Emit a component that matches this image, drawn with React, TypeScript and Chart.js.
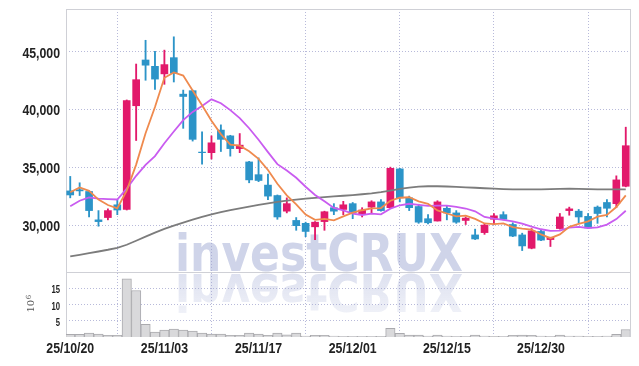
import React, { useEffect, useRef } from 'react';
import { Chart, registerables } from 'chart.js';

Chart.register(...registerables);

// ---------- DATA ----------
const dates = [
  '25/10/20', '25/10/21', '25/10/22', '25/10/23', '25/10/24', '25/10/27', '25/10/28', '25/10/29', '25/10/30', '25/10/31',
  '25/11/03', '25/11/04', '25/11/05', '25/11/06', '25/11/07', '25/11/10', '25/11/11', '25/11/12', '25/11/13', '25/11/14',
  '25/11/17', '25/11/18', '25/11/19', '25/11/20', '25/11/21', '25/11/24', '25/11/25', '25/11/26', '25/11/27', '25/11/28',
  '25/12/01', '25/12/02', '25/12/03', '25/12/04', '25/12/05', '25/12/08', '25/12/09', '25/12/10', '25/12/11', '25/12/12',
  '25/12/15', '25/12/16', '25/12/17', '25/12/18', '25/12/19', '25/12/22', '25/12/23', '25/12/24', '25/12/26', '25/12/29',
  '25/12/30', '26/01/02', '26/01/05', '26/01/06', '26/01/07', '26/01/08', '26/01/09', '26/01/12', '26/01/13', '26/01/14',
];

const dateTickIndices = [0, 10, 20, 30, 40, 50];

const opens = [
  33000, 33100, 32950, 30500, 30700, 31800, 31400, 40350, 44300, 43750,
  43100, 44500, 41350, 41650, 36350, 36300, 38250, 37750, 36650, 35500,
  34400, 33500, 32600, 31250, 30450, 30200, 29900, 30350, 31550, 31400,
  31900, 30950, 31600, 32050, 31550, 34900, 32400, 31650, 30600, 30400,
  31500, 31100, 30450, 29200, 29400, 30550, 30950, 30100, 29200, 28050,
  29500, 28800, 29750, 31300, 31250, 30800, 31600, 32000, 31900, 33400,
];
const highs = [
  34250, 33700, 33000, 31300, 31450, 32250, 40850, 43950, 46000, 45050,
  45150, 46300, 41700, 41700, 38100, 37750, 38700, 37800, 37950, 35550,
  35850, 34450, 32650, 32400, 30700, 30300, 30350, 31250, 31900, 32100,
  32000, 31550, 32150, 32250, 35050, 34950, 32550, 31850, 30950, 32150,
  31700, 31300, 30750, 29700, 30200, 31050, 31200, 30250, 29350, 29750,
  29650, 29000, 31050, 31600, 31400, 31050, 31700, 32250, 34300, 38500,
];
const lows = [
  32400, 32600, 30750, 29950, 30500, 30950, 31350, 37350, 42550, 41750,
  42200, 42400, 38400, 37300, 35300, 35750, 36400, 36000, 36300, 33700,
  33800, 32250, 30550, 31100, 29600, 29050, 28800, 29600, 30950, 30950,
  30600, 30750, 31050, 31250, 31500, 32050, 31300, 30200, 30150, 30400,
  30500, 30200, 30100, 28800, 29250, 30100, 30500, 29050, 27850, 28000,
  28700, 28200, 29700, 30900, 30250, 29750, 30200, 30750, 31550, 33350,
];
const closes = [
  32650, 33000, 31300, 30350, 31300, 31350, 40800, 42600, 43850, 42650,
  43900, 43150, 41150, 37450, 36300, 37150, 37450, 36650, 36950, 33950,
  33900, 32550, 30750, 31900, 30000, 29500, 30300, 31200, 31250, 31800,
  31100, 31350, 32050, 31300, 34950, 32400, 31550, 30300, 30250, 32050,
  31100, 30300, 30650, 28850, 30050, 30850, 30550, 29100, 28250, 29550,
  28750, 29000, 30750, 31450, 30750, 29800, 31050, 31500, 33950, 36900,
];

const ma5 = [
  32880, 33300, 33000, 32250, 31780, 31500, 33020, 35270, 37970, 40240,
  42760, 43230, 42950, 41670, 40400, 39050, 37900, 37000, 36900, 36420,
  35770, 34800, 33620, 32620, 31840, 30960, 30500, 30580, 30450, 30800,
  31120, 31330, 31500, 31520, 32150, 32410, 32450, 32100, 31890, 31310,
  31050, 30800, 30870, 30590, 30190, 30140, 30190, 29880, 29750, 29650,
  29240, 28920, 29250, 29900, 30160, 30370, 30780, 30920, 31610, 32610,
];
const ma10 = [
  31680, 32150, 32440, 32330, 32290, 32260, 33200, 34300, 35250, 36000,
  37110, 38130, 39110, 39820, 40320, 40900, 40570, 39970, 39280, 38410,
  37410, 36350, 35310, 34760, 34130, 33360, 32650, 32100, 31530, 31320,
  31040, 30920, 31040, 30980, 31470, 31760, 31890, 31800, 31700, 31730,
  31730, 31630, 31480, 31240, 30750, 30600, 30490, 30370, 30170, 29920,
  29690, 29550, 29570, 29830, 29900, 29800, 29850, 30090, 30570, 31290,
];
const ma60 = [
  27350, 27480, 27620, 27770, 27920, 28090, 28350, 28700, 29050, 29400,
  29720, 30000, 30270, 30520, 30760, 30980, 31170, 31350, 31500, 31650,
  31800, 31930, 32050, 32160, 32250, 32330, 32400, 32460, 32520, 32580,
  32640, 32710, 32790, 32900, 33030, 33170, 33290, 33370, 33400, 33400,
  33380, 33350, 33310, 33270, 33230, 33190, 33160, 33140, 33130, 33130,
  33140, 33160, 33180, 33190, 33180, 33160, 33140, 33130, 33130, 33130,
];

// volume in millions of shares
const volumes = [
  0.8, 0.85, 1.2, 0.9, 0.5, 0.5, 17.9, 14.3, 3.9, 1.5,
  2.1, 2.45, 2.1, 1.8, 1.2, 0.9, 0.9, 0.55, 0.55, 1.2,
  0.9, 0.55, 1.2, 0.7, 1.2, 0.3, 0.55, 0.5, 0.3, 0.2,
  0.2, 0.2, 0.2, 0.2, 2.65, 1.1, 0.6, 0.6, 0.3, 0.6,
  0.3, 0.2, 0.2, 0.6, 0.3, 0.2, 0.2, 0.5, 0.6, 0.5,
  0.3, 0.2, 0.6, 0.3, 0.3, 0.2, 0.2, 0.3, 0.8, 2.3,
];

const priceTicks = [30000, 35000, 40000, 45000];
const volumeTicks = [5, 10, 15];
const volumeUnitLabel = '10';
const volumeUnitExp = '6';
const WATERMARK = 'investCRUX';

// ---------- STYLE ----------
const UP = '#e2196b';
const DOWN = '#2c94c8';
const GRID = 'rgba(160,163,205,0.75)';
const FRAME = '#cfd0d6';
const LABEL_FONT = "'Liberation Sans', Arial, sans-serif";

const idx = dates.map((_, i) => i);
const candleColors = idx.map((i) => (closes[i] >= opens[i] ? UP : DOWN));

const watermarkPlugin = {
  id: 'watermark',
  beforeDraw(chart: any) {
    const { ctx } = chart;
    const ys = chart.scales.y;
    const base = ys.bottom - 1;
    ctx.save();
    ctx.font = "bold 52px 'DejaVu Sans', sans-serif";
    const w = ctx.measureText(WATERMARK).width;
    const sx = 288 / w;
    ctx.textBaseline = 'alphabetic';
    ctx.textAlign = 'left';
    ctx.save();
    ctx.translate(175, base);
    ctx.scale(sx, 1);
    ctx.fillStyle = 'rgb(207,212,233)';
    ctx.fillText(WATERMARK, 0, 0);
    ctx.restore();
    // reflection
    ctx.save();
    ctx.translate(175, base + 3);
    ctx.scale(sx, -1);
    const g = ctx.createLinearGradient(0, 0, 0, -42);
    g.addColorStop(0, 'rgba(207,212,233,0.7)');
    g.addColorStop(1, 'rgba(207,212,233,0.3)');
    ctx.fillStyle = g;
    ctx.fillText(WATERMARK, 0, 0);
    ctx.restore();
    ctx.restore();
  },
};

const framePlugin = {
  id: 'frame',
  beforeDatasetsDraw(chart: any) {
    const { ctx, chartArea } = chart;
    const sep = chart.scales.y.bottom;
    ctx.save();
    ctx.strokeStyle = FRAME;
    ctx.lineWidth = 1;
    ctx.beginPath();
    ctx.moveTo(chartArea.left + 0.5, chartArea.top);
    ctx.lineTo(chartArea.left + 0.5, chartArea.bottom);
    ctx.moveTo(chartArea.right + 0.5, chartArea.top);
    ctx.lineTo(chartArea.right + 0.5, chartArea.bottom);
    ctx.moveTo(chartArea.left, chartArea.top + 0.5);
    ctx.lineTo(chartArea.right, chartArea.top + 0.5);
    ctx.moveTo(chartArea.left, Math.round(sep) + 0.5);
    ctx.lineTo(chartArea.right, Math.round(sep) + 0.5);
    ctx.stroke();
    ctx.restore();
  },
};

// tick labels drawn with a horizontally condensed bold face, positioned by the chart's scales
const labelPlugin = {
  id: 'labels',
  afterDraw(chart: any) {
    const { ctx, chartArea } = chart;
    const draw = (text: string, x: number, y: number, size: number, sx: number, align: CanvasTextAlign) => {
      ctx.save();
      ctx.font = `bold ${size}px ${LABEL_FONT}`;
      ctx.fillStyle = '#222';
      ctx.textAlign = align;
      ctx.textBaseline = 'middle';
      ctx.translate(x, y);
      ctx.scale(sx, 1);
      ctx.fillText(text, 0, 0);
      ctx.restore();
    };
    const ys = chart.scales.y;
    const y2 = chart.scales.y2;
    const xs = chart.scales.x;
    const right = chartArea.left - 6;
    priceTicks.forEach((v) => draw(v.toLocaleString('en-US'), right, ys.getPixelForValue(v) + 1.5, 15, 0.82, 'right'));
    volumeTicks.forEach((v) => draw(String(v), right, y2.getPixelForValue(v) + 2, 11, 0.7, 'right'));
    dateTickIndices.forEach((i) => draw(dates[i], xs.getPixelForValue(i), chartArea.bottom + 11.5, 15, 0.82, 'center'));

    // volume unit (10^6), rotated
    const cy = (y2.top + y2.bottom) / 2;
    ctx.save();
    ctx.translate(34, cy + 8);
    ctx.rotate(-Math.PI / 2);
    ctx.fillStyle = '#555';
    ctx.textBaseline = 'alphabetic';
    ctx.textAlign = 'left';
    ctx.font = "10px 'DejaVu Serif', serif";
    ctx.fillText(volumeUnitLabel, 0, 0);
    const w = ctx.measureText(volumeUnitLabel).width;
    ctx.font = "7px 'DejaVu Serif', serif";
    ctx.fillText(volumeUnitExp, w + 0.5, -3.5);
    ctx.restore();
  },
};

export default function App() {
  const ref = useRef<HTMLCanvasElement | null>(null);

  useEffect(() => {
    if (!ref.current) return;
    const chart = new Chart(ref.current, {
      type: 'bar',
      data: {
        datasets: [
          {
            type: 'line',
            label: 'MA5',
            data: idx.map((i) => ({ x: i, y: ma5[i] })),
            borderColor: '#ef8a4e',
            borderWidth: 1.8,
            pointRadius: 0,
            tension: 0,
            yAxisID: 'y',
            order: 0,
          } as any,
          {
            type: 'line',
            label: 'MA10',
            data: idx.map((i) => ({ x: i, y: ma10[i] })),
            borderColor: '#c95cf0',
            borderWidth: 1.8,
            pointRadius: 0,
            tension: 0,
            yAxisID: 'y',
            order: 0,
          } as any,
          {
            type: 'line',
            label: 'MA60',
            data: idx.map((i) => ({ x: i, y: ma60[i] })),
            borderColor: '#7c7c7c',
            borderWidth: 1.8,
            pointRadius: 0,
            tension: 0,
            yAxisID: 'y',
            order: 0,
          } as any,
          {
            type: 'bar',
            label: 'body',
            data: idx.map((i) => ({ x: i, y: [opens[i], closes[i]] })),
            backgroundColor: candleColors,
            barThickness: 7,
            grouped: false,
            yAxisID: 'y',
            order: 1,
          } as any,
          {
            type: 'bar',
            label: 'wick',
            data: idx.map((i) => ({ x: i, y: [lows[i], highs[i]] })),
            backgroundColor: candleColors,
            barThickness: 1.2,
            grouped: false,
            yAxisID: 'y',
            order: 2,
          } as any,
          {
            type: 'bar',
            label: 'volume',
            data: idx.map((i) => ({ x: i, y: volumes[i] })),
            backgroundColor: '#d9d9db',
            borderColor: '#aaaaae',
            borderWidth: 1,
            barPercentage: 1,
            categoryPercentage: 1,
            grouped: false,
            yAxisID: 'y2',
            order: 3,
          } as any,
        ],
      },
      options: {
        animation: false,
        responsive: false,
        maintainAspectRatio: false,
        layout: { padding: { left: 0, right: 9, top: 9, bottom: 0 } },
        plugins: { legend: { display: false }, tooltip: { enabled: false } },
        scales: {
          x: {
            type: 'linear',
            min: -0.45,
            max: 59.45,
            offset: false,
            afterBuildTicks: (s: any) => {
              s.ticks = dateTickIndices.map((v) => ({ value: v }));
            },
            ticks: { display: false },
            grid: { color: GRID, drawTicks: false, lineWidth: 1 },
            border: { display: false, dash: [1, 2] },
            afterFit: (s: any) => {
              s.height = 29;
            },
          },
          y2: {
            type: 'linear',
            position: 'left',
            stack: 'panels',
            stackWeight: 65,
            weight: 0,
            min: 0,
            max: 20,
            afterBuildTicks: (s: any) => {
              s.ticks = volumeTicks.map((v) => ({ value: v }));
            },
            ticks: { display: false },
            grid: { color: GRID, drawTicks: false, lineWidth: 1 },
            border: { display: false, dash: [1, 2] },
            afterFit: (s: any) => {
              s.width = 66;
            },
          },
          y: {
            type: 'linear',
            position: 'left',
            stack: 'panels',
            stackWeight: 263,
            weight: 0,
            min: 26000,
            max: 48700,
            afterBuildTicks: (s: any) => {
              s.ticks = priceTicks.map((v) => ({ value: v }));
            },
            ticks: { display: false },
            grid: { color: GRID, drawTicks: false, lineWidth: 1 },
            border: { display: false, dash: [1, 2] },
            afterFit: (s: any) => {
              s.width = 66;
            },
          },
        },
      } as any,
      plugins: [watermarkPlugin, framePlugin, labelPlugin],
    });
    return () => chart.destroy();
  }, []);

  return (
    <div style={{ position: 'fixed', left: 0, top: 0, width: 639, height: 366, background: '#fff' }}>
      <canvas ref={ref} width={639} height={366} style={{ display: 'block', width: 639, height: 366 }} />
    </div>
  );
}
